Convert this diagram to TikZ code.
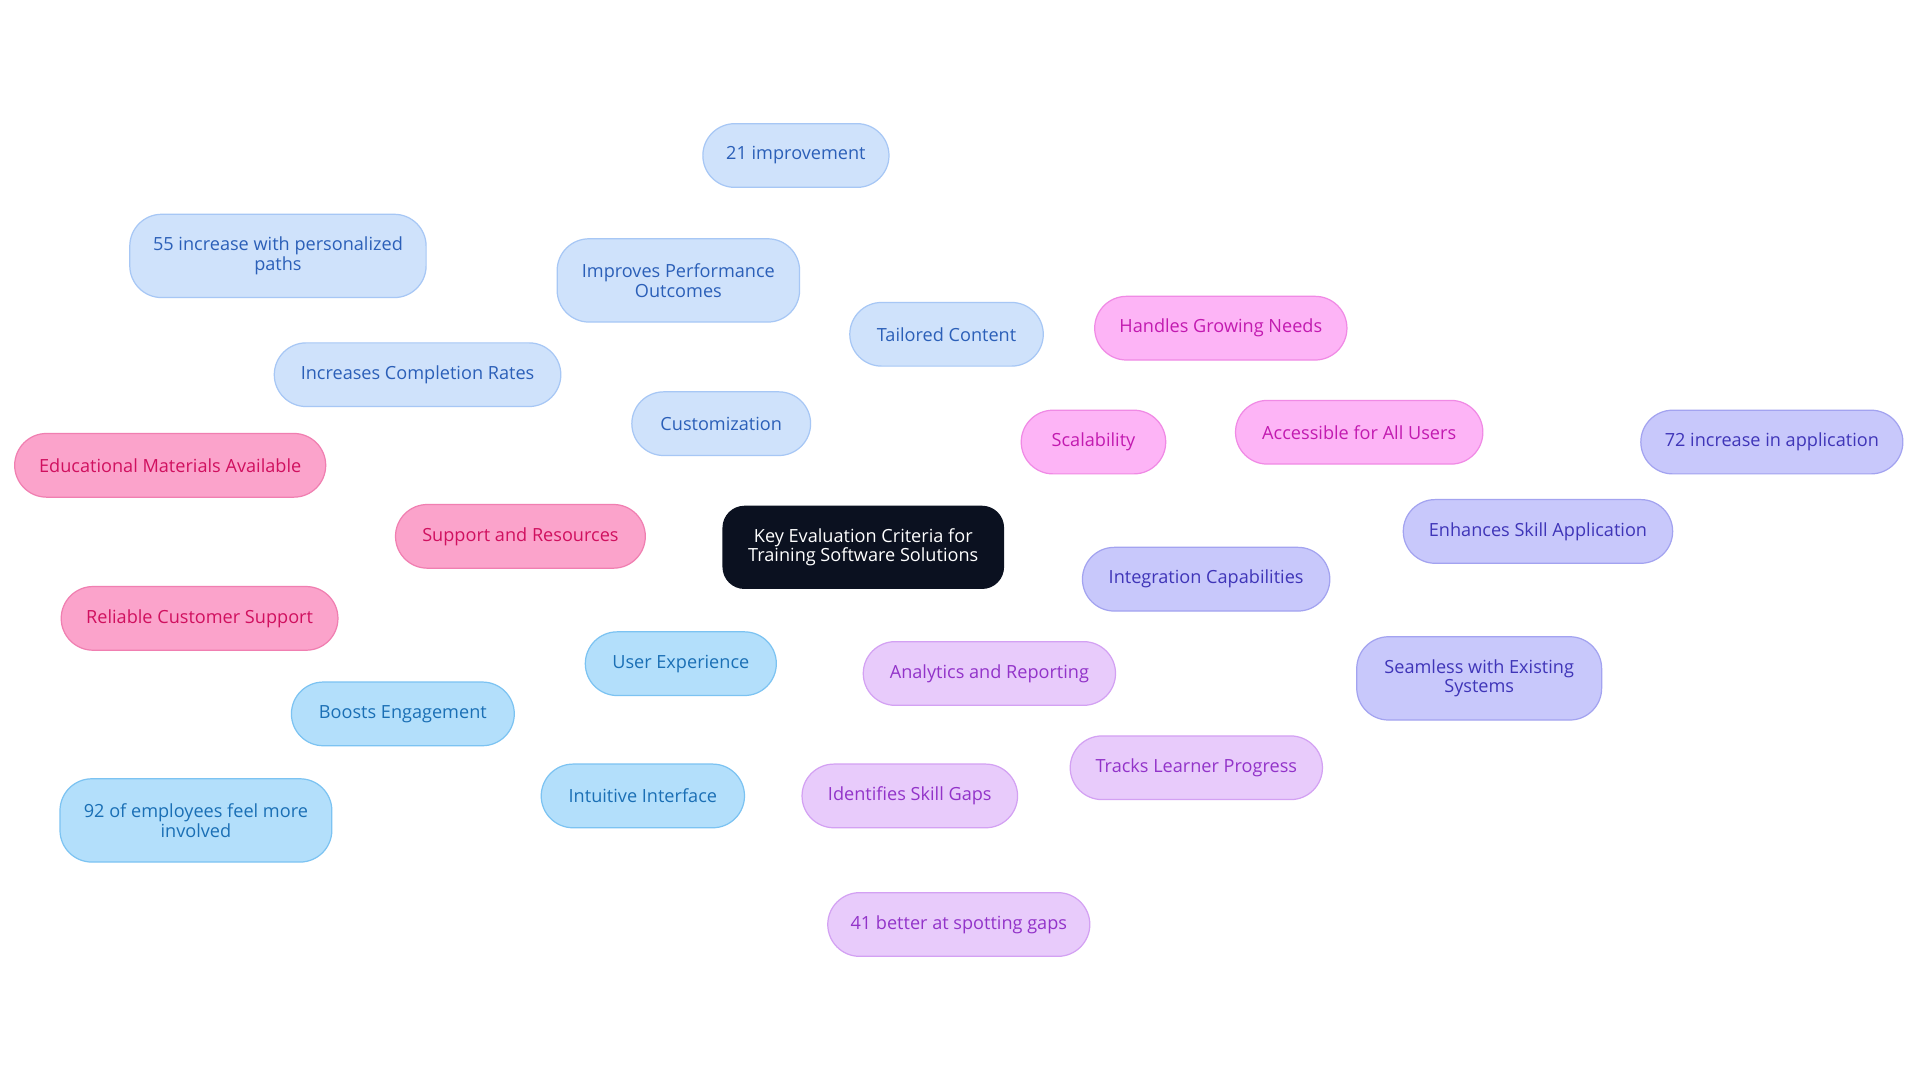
\documentclass[tikz,border=0pt]{standalone}
\usepackage{fontspec}
\setmainfont{Open Sans}
\usetikzlibrary{backgrounds}
\definecolor{cF}{HTML}{CFE2FB}\definecolor{cD}{HTML}{A7C7F5}\definecolor{cT}{HTML}{2B5FB8}
\definecolor{sF}{HTML}{FBA3CB}\definecolor{sD}{HTML}{F07FB1}\definecolor{sT}{HTML}{D0105F}
\definecolor{uF}{HTML}{B3DFFB}\definecolor{uD}{HTML}{7CC3F2}\definecolor{uT}{HTML}{1A6FB5}
\definecolor{aF}{HTML}{E8CBFB}\definecolor{aD}{HTML}{D3A1F3}\definecolor{aT}{HTML}{9233C9}
\definecolor{iF}{HTML}{C8C8FB}\definecolor{iD}{HTML}{A3A3F0}\definecolor{iT}{HTML}{3F35B8}
\definecolor{kF}{HTML}{FDB4F6}\definecolor{kD}{HTML}{F08AE5}\definecolor{kT}{HTML}{C21AB0}
\definecolor{ctr}{HTML}{0B1120}
\tikzset{
 box/.style={rounded corners=13pt,minimum height=26pt,align=center,inner sep=2pt,font=\fontsize{7.4}{8}\selectfont,line width=0.5pt},
 cb/.style={box,fill=cF,draw=cD,text=cT},
 sb/.style={box,fill=sF,draw=sD,text=sT},
 ub/.style={box,fill=uF,draw=uD,text=uT},
 ab/.style={box,fill=aF,draw=aD,text=aT},
 ib/.style={box,fill=iF,draw=iD,text=iT},
 kb/.style={box,fill=kF,draw=kD,text=kT},
 ce/.style={draw=cD,line width=0.8pt},
 se/.style={draw=sD,line width=0.8pt},
 ue/.style={draw=uD,line width=0.8pt},
 ae/.style={draw=aD,line width=0.8pt},
 ie/.style={draw=iD,line width=0.8pt},
 ke/.style={draw=kD,line width=0.8pt},
}
\begin{document}
\begin{tikzpicture}[x=0.5pt,y=-0.5pt]
\useasboundingbox[fill=white] (0,0) rectangle (1568,884);
\node[box,fill=ctr,text=white,minimum width=115pt,minimum height=34pt,rounded corners=9pt] (c) at (705,447) {Key Evaluation Criteria for\\Training Software Solutions};
\node[cb,minimum width=73pt] (cu) at (589,346) {Customization};
\node[cb,minimum width=79pt] (tc) at (773,273) {Tailored Content};
\node[cb,minimum width=99pt,minimum height=34pt] (ip) at (554,229) {Improves Performance\\Outcomes};
\node[cb,minimum width=76pt] (i21) at (650,127) {21 improvement};
\node[cb,minimum width=117pt] (icr) at (341,306) {Increases Completion Rates};
\node[cb,minimum width=121pt,minimum height=34pt] (i55) at (227,209) {55 increase with personalized\\paths};
\node[sb,minimum width=102pt] (sr) at (425,438) {Support and Resources};
\node[sb,minimum width=127pt] (em) at (139,380) {Educational Materials Available};
\node[sb,minimum width=113pt] (rc) at (163,505) {Reliable Customer Support};
\node[ub,minimum width=78pt] (ux) at (556,542) {User Experience};
\node[ub,minimum width=91pt] (be) at (329,583) {Boosts Engagement};
\node[ub,minimum width=111pt,minimum height=34pt] (e92) at (160,670) {92 of employees feel more\\involved};
\node[ub,minimum width=83pt] (ii) at (525,650) {Intuitive Interface};
\node[ab,minimum width=103pt] (ar) at (808,550) {Analytics and Reporting};
\node[ab,minimum width=103pt] (tl) at (977,627) {Tracks Learner Progress};
\node[ab,minimum width=88pt] (isg) at (743,650) {Identifies Skill Gaps};
\node[ab,minimum width=107pt] (b41) at (783,755) {41 better at spotting gaps};
\node[ib,minimum width=101pt] (ic) at (985,473) {Integration Capabilities};
\node[ib,minimum width=110pt] (es) at (1256,434) {Enhances Skill Application};
\node[ib,minimum width=107pt] (a72) at (1447,361) {72 increase in application};
\node[ib,minimum width=100pt,minimum height=34pt] (sw) at (1208,554) {Seamless with Existing\\Systems};
\node[kb,minimum width=59pt] (sc) at (893,361) {Scalability};
\node[kb,minimum width=103pt] (hg) at (997,268) {Handles Growing Needs};
\node[kb,minimum width=101pt] (aa) at (1110,353) {Accessible for All Users};
\begin{scope}[on background layer]
\draw[ce] (c) -- (cu); \draw[ce] (cu) -- (tc); \draw[ce] (cu) -- (ip); \draw[ce] (ip) -- (i21);
\draw[ce] (cu) -- (icr); \draw[ce] (icr) -- (i55);
\draw[se] (c) -- (sr); \draw[se] (sr) -- (em); \draw[se] (sr) -- (rc);
\draw[ue] (c) -- (ux); \draw[ue] (ux) -- (be); \draw[ue] (be) -- (e92); \draw[ue] (ux) -- (ii);
\draw[ae] (c) -- (ar); \draw[ae] (ar) -- (tl); \draw[ae] (ar) -- (isg); \draw[ae] (isg) -- (b41);
\draw[ie] (c) -- (ic); \draw[ie] (ic) -- (es); \draw[ie] (es) -- (a72); \draw[ie] (ic) -- (sw);
\draw[ke] (c) -- (sc); \draw[ke] (sc) -- (hg); \draw[ke] (sc) -- (aa);
\end{scope}
\end{tikzpicture}
\end{document}
